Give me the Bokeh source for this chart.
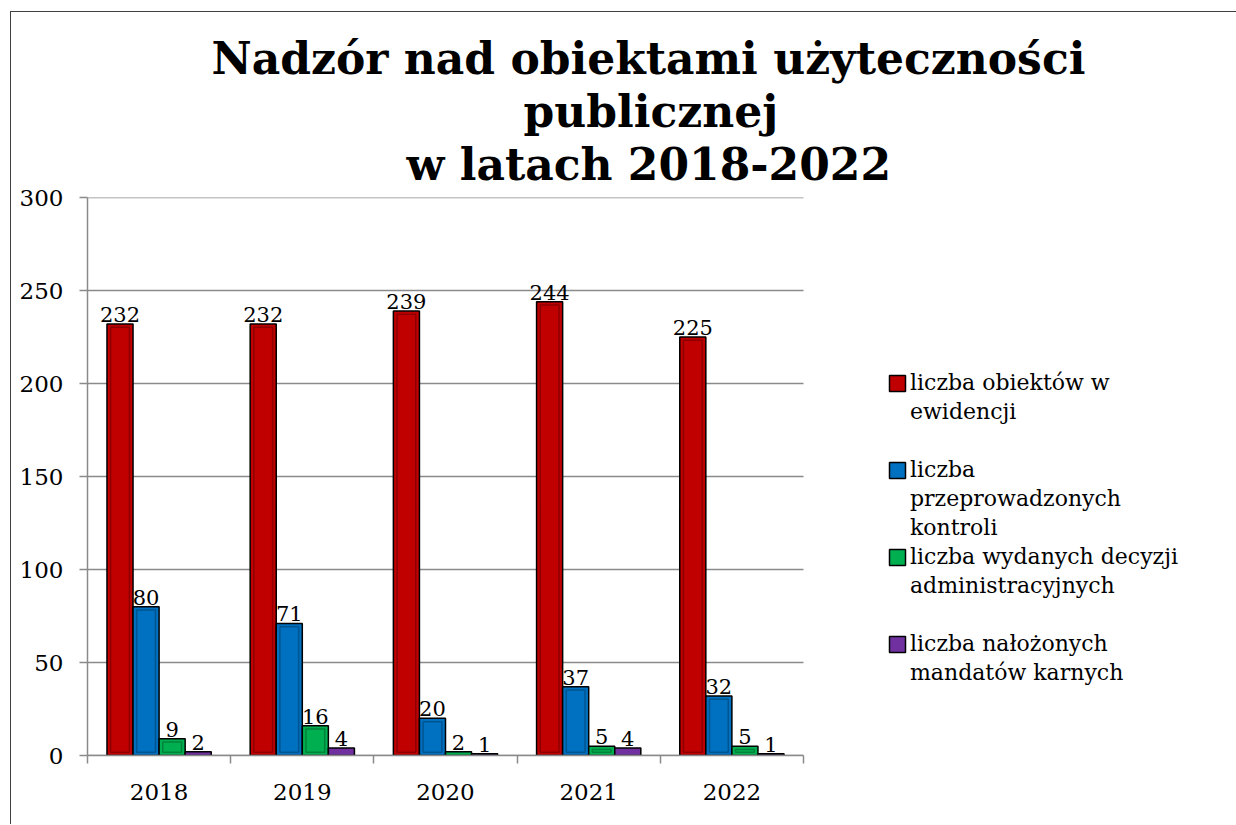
from bokeh.plotting import figure
from bokeh.models import Range1d, FixedTicker, Legend, LegendItem, ColumnDataSource, Title
from bokeh.core.properties import value
from bokeh.embed import file_html
from bokeh.resources import INLINE

years = ["2018", "2019", "2020", "2021", "2022"]
obiekty = [232, 232, 239, 244, 225]
kontrole = [80, 71, 20, 37, 32]
decyzje = [9, 16, 2, 5, 5]
mandaty = [2, 4, 1, 4, 1]
series_values = [obiekty, kontrole, decyzje, mandaty]
# legend labels, one list of lines per series (blank line = gap after the entry)
series_lines = [
    ["liczba obiektów w", "ewidencji", " "],
    ["liczba", "przeprowadzonych", "kontroli"],
    ["liczba wydanych decyzji", "administracyjnych", " "],
    ["liczba nałożonych", "mandatów karnych"],
]
title_lines = ["Nadzór  nad obiektami użyteczności", "publicznej", "w latach 2018-2022"]
colors = ["#C00000", "#0070C0", "#00B050", "#7030A0"]
inner_colors = ["#8E0000", "#00548F", "#00823B", "#532378"]
y_ticks = [0, 50, 100, 150, 200, 250, 300]

FONT = "DejaVu Serif"
GRID = "#8A8A8A"

n = len(years)
CHART_W = 716      # pixels used by the bar area
FRAME_W = 1149     # frame includes the legend area on the right
p = figure(frame_width=FRAME_W, frame_height=558,
           x_range=Range1d(0, n * FRAME_W / CHART_W), y_range=Range1d(0, 300),
           output_backend="svg", toolbar_location=None, title_location=None,
           min_border_left=76, min_border_right=0, min_border_top=185, min_border_bottom=69)
p.styles = {"margin-left": "10px", "margin-top": "11px",
            "border-left": "1px solid #404040", "border-top": "1px solid #404040"}
p.outline_line_color = None
p.background_fill_color = "white"
p.border_fill_color = "white"

# small spacer between plot and title, then title lines (closest to the plot first)
p.add_layout(Title(text=" ", text_font_size="6px", standoff=0), "above")
title_offsets = [124, 436, 319]
for txt, off in reversed(list(zip(title_lines, title_offsets))):
    t = Title(text=txt, align="left", offset=off, text_font=FONT, text_font_style="bold",
              text_font_size="44px", text_color="black", standoff=0)
    p.add_layout(t, "above")

# grid lines only across the bar area
p.xgrid.visible = False
p.ygrid.visible = False
p.segment(x0=[0] * len(y_ticks), y0=y_ticks, x1=[n] * len(y_ticks), y1=y_ticks,
          line_color=GRID, line_width=1.5)

# y axis
p.yaxis.ticker = FixedTicker(ticks=y_ticks)
p.yaxis.axis_line_color = GRID
p.yaxis.axis_line_width = 1.5
p.yaxis.major_tick_line_color = GRID
p.yaxis.major_tick_line_width = 1.5
p.yaxis.major_tick_out = 8
p.yaxis.major_tick_in = 0
p.yaxis.minor_tick_line_color = None
p.yaxis.major_label_standoff = 16
p.yaxis.major_label_text_font = FONT
p.yaxis.major_label_text_font_size = "23px"
p.yaxis.major_label_text_color = "black"

# x axis
centers = [i + 0.5 for i in range(n)]
bounds = [float(i) for i in range(n + 1)]
p.xaxis.bounds = (0, n)
p.xaxis.ticker = FixedTicker(ticks=centers, minor_ticks=bounds)
p.xaxis.major_label_overrides = {c: y for c, y in zip(centers, years)}
p.xaxis.axis_line_color = GRID
p.xaxis.axis_line_width = 1.5
p.xaxis.major_tick_line_color = None
p.xaxis.major_tick_out = 0
p.xaxis.major_tick_in = 0
p.xaxis.minor_tick_line_color = GRID
p.xaxis.minor_tick_line_width = 1.5
p.xaxis.minor_tick_out = 8
p.xaxis.minor_tick_in = 0
p.xaxis.major_label_standoff = 20
p.xaxis.major_label_text_font = FONT
p.xaxis.major_label_text_font_size = "23px"
p.xaxis.major_label_text_color = "black"

bw = 0.182
renderers = []
for k, vals in enumerate(series_values):
    xs = [c + (k - 1.5) * bw for c in centers]
    src = ColumnDataSource(dict(x=xs, top=vals, label=[str(v) for v in vals]))
    r = p.vbar(x="x", top="top", bottom=0, width=bw, source=src,
               fill_color=colors[k], line_color="black", line_width=1.5)
    renderers.append(r)
    # inner bevel outline for taller bars
    big = [(x, v) for x, v in zip(xs, vals) if v >= 5]
    if big:
        isrc = ColumnDataSource(dict(x=[b[0] for b in big], top=[b[1] - 1.8 for b in big]))
        p.vbar(x="x", top="top", bottom=1.8, width=bw * 0.72, source=isrc,
               fill_color=None, line_color=inner_colors[k], line_width=1.5)
    p.text(x="x", y="top", text="label", source=src, text_align="center",
           text_baseline="bottom", y_offset=-2, text_font=value(FONT),
           text_font_size="21px", text_color="black")

# invisible renderer for continuation lines of the legend
blank = p.vbar(x=[], top=[], width=bw, fill_alpha=0, line_alpha=0)

items = []
for k, lines in enumerate(series_lines):
    items.append(LegendItem(label=lines[0], renderers=[renderers[k]]))
    for ln in lines[1:]:
        items.append(LegendItem(label=ln, renderers=[blank]))

legend = Legend(
    items=items, location=(800, 68), orientation="vertical",
    label_text_font=FONT, label_text_font_size="22px",
    label_text_color="black",
    glyph_width=20, glyph_height=20, label_standoff=3, spacing=0,
    padding=10, margin=0, label_height=29,
    border_line_color=None, background_fill_alpha=0,
)
p.add_layout(legend)

open("out.html", "w").write(file_html(p, INLINE))
